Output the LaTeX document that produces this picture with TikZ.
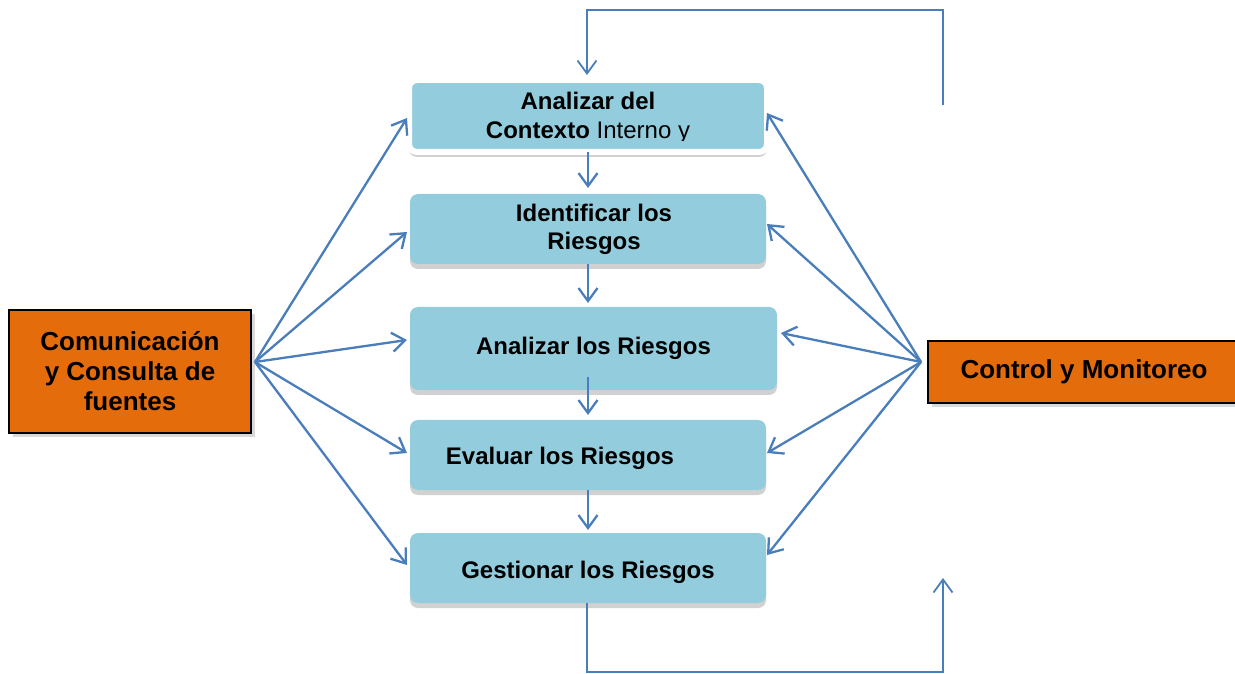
\documentclass[tikz,border=0pt]{standalone}
\usepackage{fontspec}
\setmainfont{Liberation Sans}
\usetikzlibrary{arrows.meta, positioning, shadows}
\definecolor{boxblue}{HTML}{93CDDD}
\definecolor{boxorange}{HTML}{E46C0A}
\definecolor{lineblue}{HTML}{4A7EBB}

\begin{document}
\begin{tikzpicture}[x=1pt, y=1pt,
        box/.style={rectangle, rounded corners=8pt, fill=boxblue, outer sep=0pt, minimum width=356pt, minimum height=70pt, align=center, font=\bfseries\fontsize{24}{28}\selectfont, drop shadow={shadow xshift=0pt, shadow yshift=-5pt, fill=black!18, opacity=1}},
        ctxbox/.style={draw=white, line width=6pt, minimum width=358pt, minimum height=72pt},
        side/.style={draw, rectangle, line width=1.5pt, fill=boxorange, outer sep=0pt, align=center, font=\bfseries\fontsize{26}{30}\selectfont, drop shadow={shadow xshift=4pt, shadow yshift=-4pt, fill=black!15, opacity=1}},
        lowtext/.style={text height=25pt, text depth=5pt},
        arrow/.style={-{Straight Barb[length=13pt, width=19pt]}, draw=lineblue, line width=2.3pt},
        loopline/.style={arrow, line width=1.8pt}
    ]
        \useasboundingbox (0,0) rectangle (1235,673);
        % process steps
        \node[box, ctxbox] (ctx) at (588,557) {};
        \begin{scope}
            \clip ([yshift=11pt]ctx.south west) rectangle (ctx.north east);
            \node[align=center, font=\fontsize{24}{29}\selectfont] (ctxtext) at ([yshift=-2pt]ctx.center) {\textbf{Analizar del}\\\textbf{Contexto} Interno y};
        \end{scope}
        \node[box, below=42pt of ctx] (ident) {\hspace*{12pt}Identificar los\\\hspace*{12pt}Riesgos};
        \node[box, minimum width=367pt, minimum height=83pt, below=43pt of ident.south west, anchor=north west] (anal) {Analizar los Riesgos};
        \node[box, lowtext, below=30pt of anal.south west, anchor=north west] (eval) {Evaluar los Riesgos\hspace*{56pt}};
        \node[box, lowtext, below=43pt of eval] (gest) {Gestionar los Riesgos};
        % side boxes
        \node[side, minimum width=242pt, minimum height=123pt] (com) at (130,301.5) {Comunicación\\y Consulta de\\fuentes};
        \node[side, minimum width=312pt, minimum height=62pt] (ctrl) at (1084,301) {Control y Monitoreo};
        \coordinate (lsrc) at (255,311);
        \coordinate (rsrc) at (921,311);
        \coordinate (ctop) at (943,568);
        \coordinate (cbot) at (943,95);
        % flow down
        \draw[arrow] (ctx.south) -- ([yshift=6pt]ident.north);
        \draw[arrow] (ident.south) -- ([xshift=-5.5pt, yshift=4pt]anal.north);
        \draw[arrow] ([xshift=-5.5pt, yshift=13pt]anal.south) -- ([yshift=5pt]eval.north);
        \draw[arrow] (eval.south) -- ([yshift=3pt]gest.north);
        % communication
        \draw[arrow] (lsrc) -- ([xshift=-2pt, yshift=-2pt]ctx.west);
        \draw[arrow] (lsrc) -- ([xshift=-3pt, yshift=-3pt]ident.west);
        \draw[arrow] (lsrc) -- ([xshift=-3pt, yshift=8.5pt]anal.west);
        \draw[arrow] (lsrc) -- ([xshift=-3pt, yshift=2pt]eval.west);
        \draw[arrow] (lsrc) -- ([xshift=-3pt, yshift=3pt]gest.west);
        % monitoring
        \draw[arrow] (rsrc) -- ([yshift=3pt]ctx.east);
        \draw[arrow] (rsrc) -- ([xshift=1pt, yshift=5pt]ident.east);
        \draw[arrow] (rsrc) -- ([xshift=4pt, yshift=15.5pt]anal.east);
        \draw[arrow] (rsrc) -- ([xshift=1pt, yshift=2pt]eval.east);
        \draw[arrow] (rsrc) -- ([xshift=1pt, yshift=13pt]gest.east);
        % feedback loops
        \draw[loopline] (ctop) -- ++(0,95) -| ([xshift=-1pt, yshift=5pt]ctx.north);
        \draw[loopline] ([xshift=-1pt]gest.south) -- ++(0,-69) -| (cbot);
    \end{tikzpicture}
\end{document}
